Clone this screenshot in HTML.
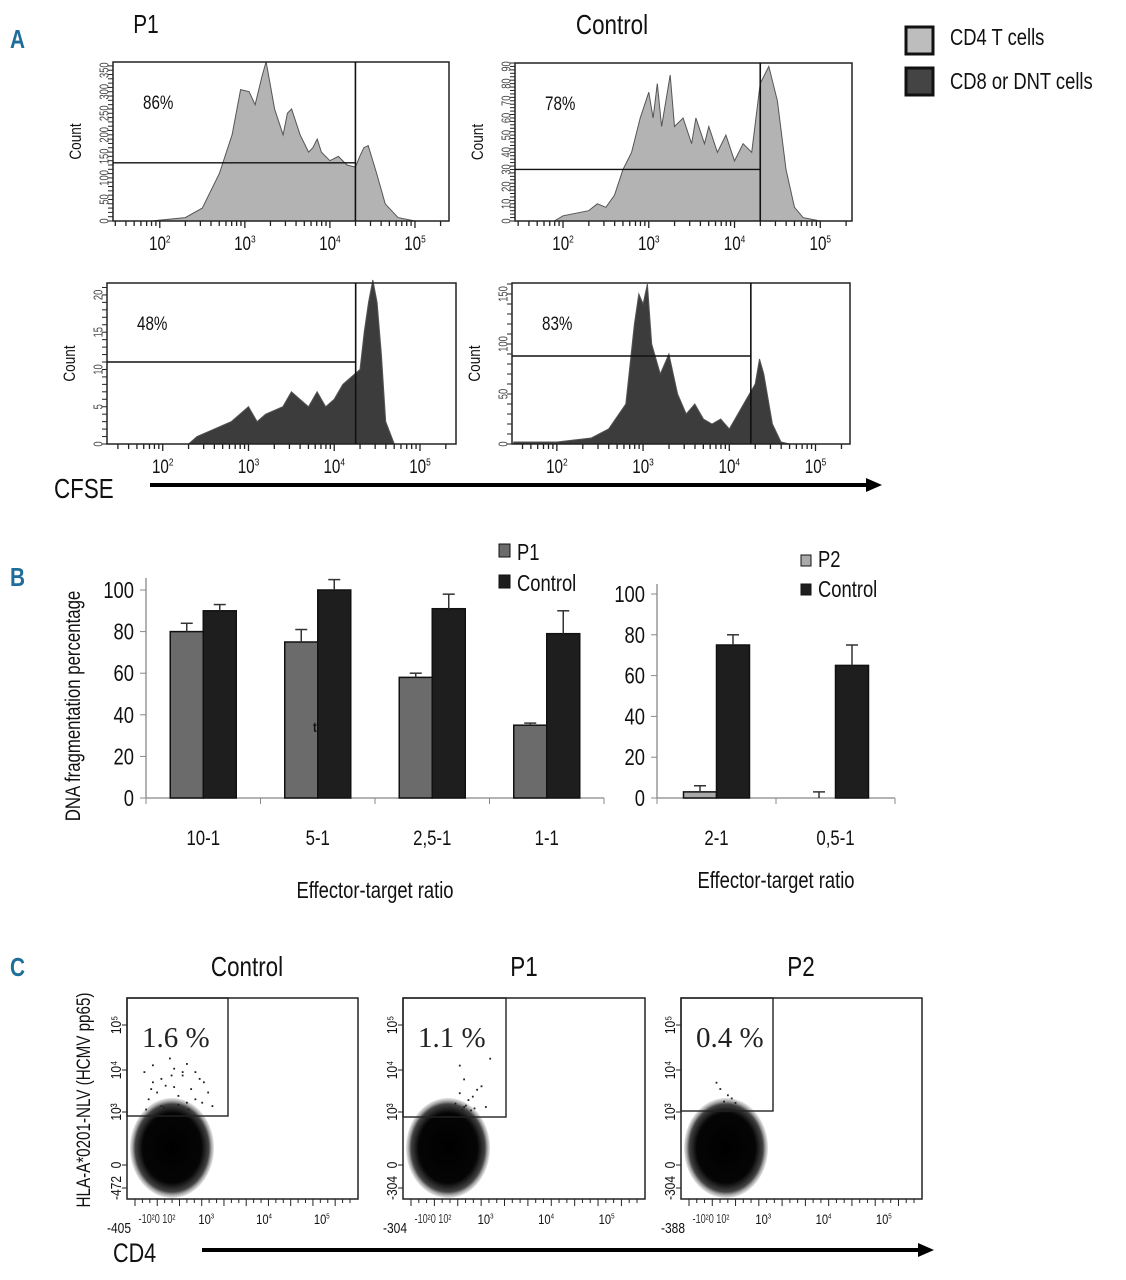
<!DOCTYPE html>
<html><head><meta charset="utf-8">
<style>
body{margin:0;background:#fff;}
svg{display:block;font-family:"Liberation Sans",sans-serif;}
</style></head>
<body>
<svg id="fig" width="1126" height="1280" viewBox="0 0 1126 1280" xmlns="http://www.w3.org/2000/svg">
<defs>
<radialGradient id="cloud" cx="50%" cy="50%" r="50%">
<stop offset="0%" stop-color="#000"/>
<stop offset="70%" stop-color="#050505"/>
<stop offset="88%" stop-color="#444"/>
<stop offset="100%" stop-color="#bbb" stop-opacity="0.4"/>
</radialGradient>
</defs>
<g id="root"></g>
</svg>
<script>
// ---------- DATA ----------
const p1TopLog   = [1.9,2.0,2.3,2.5,2.7,2.85,2.95,3.05,3.12,3.2,3.25,3.35,3.45,3.5,3.55,3.65,3.75,3.8,3.85,3.9,4.0,4.1,4.2,4.3,4.35,4.4,4.45,4.55,4.65,4.8,5.0];
const p1TopCnt   = [0,2,8,30,110,200,305,300,270,335,370,260,200,250,260,200,160,170,190,160,140,150,130,125,150,170,175,110,40,8,0];
const ctTopLog   = [1.9,2.0,2.3,2.4,2.5,2.6,2.7,2.8,2.9,3.0,3.05,3.1,3.15,3.2,3.25,3.3,3.4,3.5,3.55,3.65,3.7,3.8,3.9,4.0,4.1,4.2,4.3,4.4,4.5,4.6,4.7,4.8,5.0];
const ctTopCnt   = [0,3,6,10,8,15,30,40,60,75,60,80,55,70,85,55,60,45,60,45,55,40,50,35,45,40,80,90,70,30,8,2,0];
const p1BotLog   = [2.3,2.4,2.6,2.8,3.0,3.1,3.2,3.4,3.5,3.6,3.7,3.8,3.9,4.0,4.1,4.2,4.3,4.35,4.4,4.45,4.5,4.55,4.6,4.7];
const p1BotCnt   = [0,1,2,3,5,3,4,5,7,6,5,7,5,6,8,9,10,15,19,22,19,12,3,0];
const ctBotLog   = [1.5,2.0,2.4,2.6,2.8,2.9,2.95,3.0,3.05,3.1,3.2,3.3,3.4,3.5,3.6,3.7,3.8,3.9,4.0,4.1,4.2,4.3,4.35,4.4,4.5,4.6,4.7];
const ctBotCnt   = [2,2,6,15,40,120,150,140,160,100,70,90,50,30,40,25,20,25,15,30,45,60,85,70,20,2,0];
const histPct    = ["86%","78%","48%","83%"];
const decadeLabels = ["2","3","4","5"];

const bCatsLeft   = ["10-1","5-1","2,5-1","1-1"];
const bP1         = [80,75,58,35];
const bP1Err      = [4,6,2,1];
const bCtlLeft    = [90,100,91,79];
const bCtlLeftErr = [3,5,7,11];
const bCatsRight  = ["2-1","0,5-1"];
const bP2         = [3,0];
const bP2Err      = [3,3];
const bCtlRight   = [75,65];
const bCtlRightErr= [5,10];
const bTicks      = [0,20,40,60,80,100];

const cTitles = ["Control","P1","P2"];
const cPct    = ["1.6 %","1.1 %","0.4 %"];
const cYMin   = ["-472","-304","-304"];
const cXMin   = ["-405","-304","-388"];
const cEvX = [[0.1,0.2,0.3,0.45,0.55,0.6,0.7,0.8,0.25,0.35,0.5,0.65,0.75,0.15,0.4,0.6,0.85,0.3,0.5,0.7,0.2,0.45,0.9,0.55,0.12,0.33,0.62,0.78,0.42,0.18],
              [0.55,0.6,0.8,0.55,0.65,0.7,0.5,0.6,0.75,0.9,0.62,0.68,0.58,0.72,0.85],
              [0.35,0.4,0.5,0.55,0.45,0.6]];
const cEvY = [[0.6,0.7,0.5,0.65,0.55,0.72,0.6,0.45,0.3,0.4,0.25,0.35,0.5,0.2,0.8,0.15,0.3,0.1,0.12,0.2,0.45,0.38,0.1,0.6,0.05,0.08,0.05,0.15,0.55,0.35],
              [0.7,0.5,0.4,0.3,0.2,0.25,0.15,0.1,0.35,0.8,0.12,0.05,0.06,0.08,0.1],
              [0.4,0.3,0.2,0.15,0.1,0.08]];

// ---------- DRAW ----------
const NS="http://www.w3.org/2000/svg";
const root=document.getElementById('root');
const SX=0.8;
function el(tag,attrs,parent){const e=document.createElementNS(NS,tag);for(const k in attrs)e.setAttribute(k,attrs[k]);(parent||root).appendChild(e);return e;}
function txt(s,x,y,size,attrs,parent,rot,sx){
  const a=Object.assign({x:0,y:0,'font-size':size,fill:'#111'},attrs||{});
  a.transform=`translate(${x} ${y}) rotate(${rot||0}) scale(${sx||SX} 1)`;
  const e=el('text',a,parent);e.textContent=s;return e;}
function pow10(d,x,y,size,parent){const t=txt('10',x,y,size,{'text-anchor':'middle'},parent);const s=el('tspan',{dy:-size*0.4,'font-size':size*0.55},t);s.textContent=d;return t;}

let a=txt('A',10,48,26,{fill:'#1f6e9a','font-weight':'bold'});
let b=txt('B',10,586,26,{fill:'#1f6e9a','font-weight':'bold'});
let c=txt('C',10,976,26,{fill:'#1f6e9a','font-weight':'bold'});

let t1=txt('P1',146,33,26,{'text-anchor':'middle'});
let t2=txt('Control',612,34,28,{'text-anchor':'middle'});

const lg=el('g',{});


el('rect',{x:906,y:27,width:27,height:27,fill:'#bdbdbd',stroke:'#111','stroke-width':3},lg);
el('rect',{x:906,y:68,width:27,height:27,fill:'#444',stroke:'#111','stroke-width':3},lg);
txt('CD4 T cells',950,45,23,{},lg);
txt('CD8 or DNT cells',950,89,23,{},lg);

function histogram(name,box,logMin,logMax,ymax,logs,cnts,fill,gateLog,gateCnt,pct,yTicks,yTickStep){
  const g=el('g',{});
  
  
  const sx=v=>box.x0+(v-logMin)/(logMax-logMin)*(box.x1-box.x0);
  const sy=v=>box.y1-v/ymax*(box.y1-box.y0);
  let d='M'+sx(logs[0])+','+box.y1;
  logs.forEach((l,i)=>{d+=' L'+sx(l).toFixed(1)+','+sy(cnts[i]).toFixed(1);});
  d+=' L'+sx(logs[logs.length-1])+','+box.y1+' Z';
  const p=el('path',{d:d,fill:fill,stroke:'#555','stroke-width':1},g);
  
  
  el('rect',{x:box.x0,y:box.y0,width:box.x1-box.x0,height:box.y1-box.y0,fill:'none',stroke:'#222','stroke-width':1.5},g);
  const gx=sx(gateLog),gy=sy(gateCnt);
  el('line',{x1:gx,y1:box.y0,x2:gx,y2:box.y1,stroke:'#111','stroke-width':1.6},g);
  el('line',{x1:box.x0,y1:gy,x2:gx,y2:gy,stroke:'#111','stroke-width':1.4},g);
  for(let dcd=1;dcd<=5;dcd++){for(let m=1;m<10;m++){const v=dcd+Math.log10(m);if(v<logMin||v>logMax)continue;const x=sx(v);el('line',{x1:x,y1:box.y1,x2:x,y2:box.y1+(m==1?7:5),stroke:'#222','stroke-width':1.3},g);}}
  decadeLabels.forEach(dl=>{pow10(dl,sx(+dl),box.y1+29,19,g);});
  for(let v=0;v<=ymax;v+=yTickStep){const y=sy(v);el('line',{x1:box.x0-5,y1:y,x2:box.x0,y2:y,stroke:'#222','stroke-width':1},g);}
  yTicks.forEach(v=>{const y=sy(v);txt(String(v),box.x0-8,y,13,{'text-anchor':'middle','dominant-baseline':'middle',fill:'#444'},g,-90,0.72);});
  txt('Count',box.x0-32,(box.y0+box.y1)/2,17,{'text-anchor':'middle'},g,-90);
  txt(pct,box.x0+30,box.y0+47,19,{},g);
}
histogram('hist-p1-cd4',{x0:113,x1:449,y0:62,y1:221},1.45,5.4,369,p1TopLog,p1TopCnt,'#b3b3b3',4.3,135,histPct[0],[0,50,100,150,200,250,300,350],10);
histogram('hist-control-cd4',{x0:515,x1:852,y0:63,y1:221},1.44,5.37,92,ctTopLog,ctTopCnt,'#b3b3b3',4.3,30,histPct[1],[0,10,20,30,40,50,60,70,80,90],2);
histogram('hist-p1-cd8',{x0:107,x1:456,y0:283,y1:444},1.35,5.42,21.6,p1BotLog,p1BotCnt,'#3c3c3c',4.25,11,histPct[2],[0,5,10,15,20],1);
histogram('hist-control-cd8',{x0:512,x1:850,y0:283,y1:444},1.48,5.4,161,ctBotLog,ctBotCnt,'#3c3c3c',4.25,88,histPct[3],[0,50,100,150],10);

let cf=txt('CFSE',54,498,28,{});
const arr=el('g',{});
el('line',{x1:150,y1:485,x2:868,y2:485,stroke:'#000','stroke-width':4},arr);
el('polygon',{points:'866,478 882,485 866,492',fill:'#000'},arr);

function barChart(name,ax,cats,s1,e1,s2,e2,c1){
  const g=el('g',{});
  
  
  const sy=v=>ax.y0-v*(ax.y0-ax.y100)/100;
  const gw=(ax.x1-ax.x0)/cats.length;
  el('line',{x1:ax.x0,y1:ax.y0,x2:ax.x1,y2:ax.y0,stroke:'#888','stroke-width':1.3},g);
  el('line',{x1:ax.x0,y1:ax.y0,x2:ax.x0,y2:ax.yTop,stroke:'#888','stroke-width':1.3},g);
  bTicks.forEach(v=>{const y=sy(v);el('line',{x1:ax.x0-6,y1:y,x2:ax.x0,y2:y,stroke:'#888'},g);txt(String(v),ax.x0-12,y+8,23,{'text-anchor':'end'},g);});
  for(let i=0;i<=cats.length;i++){const x=ax.x0+i*gw;el('line',{x1:x,y1:ax.y0,x2:x,y2:ax.y0+6,stroke:'#888'},g);}
  cats.forEach((cat,i)=>{
    const cx=ax.x0+(i+0.5)*gw;
    const bw=ax.bw;
    const r1=el('rect',{x:cx-bw,y:sy(s1[i]),width:bw,height:ax.y0-sy(s1[i]),fill:c1,stroke:'#111','stroke-width':1.5},g);
    
    
    const r2=el('rect',{x:cx,y:sy(s2[i]),width:bw,height:ax.y0-sy(s2[i]),fill:'#1e1e1e',stroke:'#111','stroke-width':1.5},g);
    
    
    [[cx-bw/2,s1[i],e1[i]],[cx+bw/2,s2[i],e2[i]]].forEach(([x,v,e])=>{
      el('line',{x1:x,y1:sy(v),x2:x,y2:sy(v+e),stroke:'#333','stroke-width':1.5},g);
      el('line',{x1:x-6,y1:sy(v+e),x2:x+6,y2:sy(v+e),stroke:'#333','stroke-width':1.5},g);
    });
    txt(cat,cx,ax.y0+47,21,{'text-anchor':'middle'},g);
  });
  txt('Effector-target ratio',(ax.x0+ax.x1)/2,ax.titleY,23,{'text-anchor':'middle'},g);
}
barChart('bar-chart-p1',{x0:146,x1:604,y0:798,y100:590,yTop:578,bw:33,titleY:898},bCatsLeft,bP1,bP1Err,bCtlLeft,bCtlLeftErr,'#6b6b6b');
barChart('bar-chart-p2',{x0:657,x1:895,y0:798,y100:594,yTop:584,bw:33,titleY:888},bCatsRight,bP2,bP2Err,bCtlRight,bCtlRightErr,'#aaaaaa');
let yt=txt('DNA fragmentation percentage',80,706,21,{'text-anchor':'middle'},null,-90);
const lb1=el('g',{});
el('rect',{x:499,y:544,width:11,height:13,fill:'#6b6b6b',stroke:'#111'},lb1);txt('P1',517,560,23,{},lb1);
el('rect',{x:499,y:575,width:11,height:13,fill:'#1e1e1e',stroke:'#111'},lb1);txt('Control',517,591,23,{},lb1);
const lb2=el('g',{});
el('rect',{x:801,y:555,width:10,height:11,fill:'#aaa',stroke:'#111'},lb2);txt('P2',818,567,23,{},lb2);
el('rect',{x:801,y:584,width:10,height:11,fill:'#1e1e1e',stroke:'#111'},lb2);txt('Control',818,597,23,{},lb2);
txt('t',313,732,14,{'font-weight':'bold'});

const cBoxes=[{x0:127,x1:358,gx:228,gy:1116},{x0:403,x1:645,gx:506,gy:1117},{x0:681,x1:922,gx:773,gy:1111}];
const cTitleX=[247,524,801];
cBoxes.forEach((bx,i)=>{
  const g=el('g',{});
  
  
  const y0=998,y1=1199;
  txt(cTitles[i],cTitleX[i],976,28,{'text-anchor':'middle'},g);
  el('rect',{x:bx.x0,y:y0,width:bx.x1-bx.x0,height:y1-y0,fill:'none',stroke:'#222','stroke-width':1.5},g);
  const cx=bx.x0+45,cy=1148;
  el('ellipse',{cx:cx,cy:cy,rx:42,ry:50,fill:'url(#cloud)'},g);
  el('rect',{x:bx.x0,y:y0,width:bx.gx-bx.x0,height:bx.gy-y0,fill:'none',stroke:'#222','stroke-width':1.4},g);
  cEvX[i].forEach((fx,j)=>{el('rect',{x:bx.x0+8+fx*(bx.gx-bx.x0-16),y:bx.gy-4-cEvY[i][j]*(bx.gy-y0-50),width:1.8,height:1.8,fill:'#222'},g);});
  txt(cPct[i],bx.x0+15,1047,29,{'font-family':'Liberation Serif, serif',fill:'#222'},g,0,1);
  [[0.30,'3'],[0.55,'4'],[0.80,'5']].forEach(([f,d])=>{pow10(d,bx.x0+f*(bx.x1-bx.x0)+10,y1+25,14,g);});
  txt('-10²0 10²',bx.x0+30,y1+24,13,{'text-anchor':'middle',fill:'#333'},g,0,0.7);
  txt(cXMin[i],bx.x0-8,y1+34,15,{'text-anchor':'middle'},g);
  for(let k=0;k<30;k++){const x=bx.x0+8+k*(bx.x1-bx.x0-16)/29;el('line',{x1:x,y1:y1,x2:x,y2:y1+(k%3==0?7:4),stroke:'#222'},g);}
  [[1025,'10⁵'],[1070,'10⁴'],[1112,'10³'],[1165,'0'],[1188,cYMin[i]]].forEach(([y,s])=>{
    txt(s,bx.x0-10,y,15,{'text-anchor':'middle','dominant-baseline':'middle'},g,-90);
    el('line',{x1:bx.x0-5,y1:y,x2:bx.x0,y2:y,stroke:'#222'},g);
  });
});
let cy2=txt('HLA-A*0201-NLV (HCMV pp65)',90,1100,19,{'text-anchor':'middle'},null,-90);
let cd=txt('CD4',113,1262,27,{});
const arr2=el('g',{});
el('line',{x1:202,y1:1250,x2:920,y2:1250,stroke:'#000','stroke-width':4},arr2);
el('polygon',{points:'918,1243 934,1250 918,1257',fill:'#000'},arr2);
</script>
</body></html>
